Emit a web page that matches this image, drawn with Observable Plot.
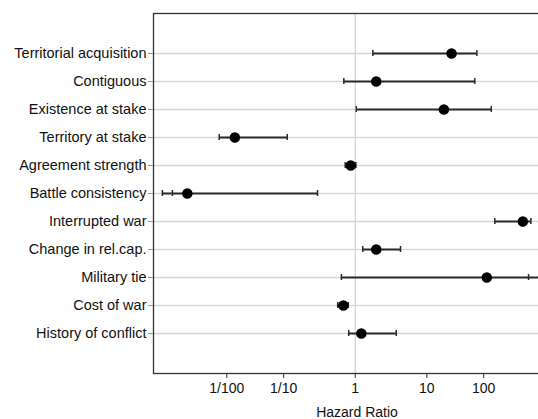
<!DOCTYPE html>
<html>
<head>
<meta charset="utf-8">
<script src="https://cdn.jsdelivr.net/npm/d3@7"></script>
<script src="https://cdn.jsdelivr.net/npm/@observablehq/plot@0.6"></script>
<style>
  html, body { margin: 0; padding: 0; background: #fff; }
  #chart { width: 538px; height: 419px; overflow: hidden; }
  #chart svg { max-width: none !important; }
</style>
</head>
<body>
<div id="chart"></div>
<script>
const labels = ["Territorial acquisition", "Contiguous", "Existence at stake", "Territory at stake",
  "Agreement strength", "Battle consistency", "Interrupted war", "Change in rel.cap.",
  "Military tie", "Cost of war", "History of conflict"];
const estimate = [25.7, 1.85, 19, 0.0143, 0.88, 0.0015, 656, 1.85, 115, 0.71, 1.19];
const lower    = [1.67, 0.72, 1.03, 0.0071, 0.75, 0.00039, 166, 1.24, 0.67, 0.60, 0.83];
const upper    = [74, 67.6, 141, 0.114, 1.02, 0.32, 1000, 4.0, 2500, 0.82, 3.48];
const extraCap = [null, null, null, null, null, 0.00068, null, null, 884, null, null];
const tickValues = [0.01, 0.1, 1, 10, 100];
const tickLabels = ["1/100", "1/10", "1", "10", "100"];

const data = labels.map((label, i) => ({label, est: estimate[i], lo: lower[i], hi: upper[i], extra: extraCap[i]}));
const L = Math.log10;
const tickU = tickValues.map(L);

const chart = Plot.plot({
  width: 560,
  height: 419,
  marginLeft: 153,
  marginRight: 0,
  marginTop: 13,
  marginBottom: 46,
  style: {fontFamily: "'Liberation Sans', Arial, sans-serif", fontSize: "14px", color: "#111", background: "#fff"},
  x: {type: "symlog", constant: 3.4, domain: [-3.63, 3.72]},
  y: {type: "band", domain: labels, paddingInner: 0, paddingOuter: 0.84},
  marks: [
    Plot.ruleY(labels, {y: d => d, stroke: "#d6d6d6", strokeWidth: 1.6}),
    Plot.ruleX([0], {stroke: "#c8c8c8", strokeWidth: 1}),
    Plot.frame({stroke: "#333", strokeWidth: 1.3}),
    Plot.axisY({tickSize: 5, tickPadding: 2, stroke: "#999", fill: "#111", label: null, fontSize: 14.5}),
    Plot.axisX({ticks: tickU, tickFormat: d => tickLabels[tickU.findIndex(t => Math.abs(t - d) < 1e-9)],
      tickSize: 5, tickPadding: 5, stroke: "#333", fill: "#111", fontSize: 14,
      label: "Hazard Ratio", labelAnchor: "center", labelArrow: "none", labelOffset: 43}),
    Plot.link(data, {x1: d => L(d.lo), x2: d => L(d.hi), y1: "label", y2: "label", stroke: "#2a2a2a", strokeWidth: 1.8}),
    Plot.tickX(data, {x: d => L(d.lo), y: "label", insetTop: 11, insetBottom: 11, stroke: "#2a2a2a", strokeWidth: 1.5}),
    Plot.tickX(data, {x: d => L(d.hi), y: "label", insetTop: 11, insetBottom: 11, stroke: "#2a2a2a", strokeWidth: 1.5}),
    Plot.tickX(data.filter(d => d.extra != null), {x: d => L(d.extra), y: "label", insetTop: 11, insetBottom: 11, stroke: "#2a2a2a", strokeWidth: 1.5}),
    Plot.dot(data, {x: d => L(d.est), y: "label", r: 4.5, fill: "#000", stroke: "#000"})
  ]
});
chart.style.maxWidth = "none";
document.getElementById("chart").append(chart);
</script>
</body>
</html>
